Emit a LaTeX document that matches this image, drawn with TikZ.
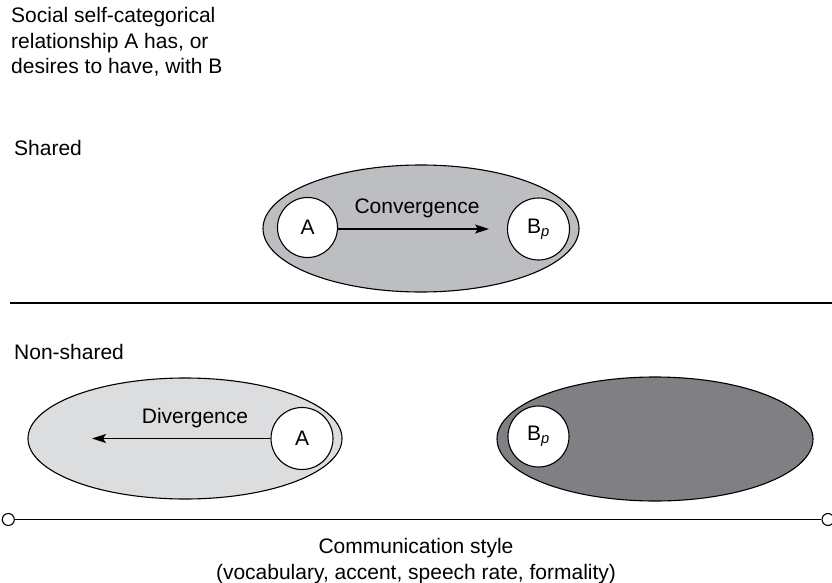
\documentclass[tikz,border=0pt]{standalone}
\usepackage{fontspec}
\setmainfont{Liberation Sans}
\usetikzlibrary{shapes.geometric,arrows.meta}
\definecolor{midgray}{HTML}{BDBEC1}
\definecolor{lightgray}{HTML}{DCDDDF}
\definecolor{darkgray}{HTML}{808084}
\begin{document}
\begin{tikzpicture}[x=1pt,y=-1pt,
  lbl/.style={font=\fontsize{21}{25.5}\selectfont, inner sep=0pt},
  oval/.style={ellipse, draw, line width=1.1pt, inner sep=0pt},
  agent/.style={circle, draw, fill=white, line width=1.1pt, minimum size=60pt, inner sep=0pt, font=\fontsize{21}{25.5}\selectfont},
  arr/.style={line width=1.1pt, -{Stealth[length=14pt,width=9pt,inset=3pt]}},
  axis/.style={line width=1.1pt},
  endc/.style={circle, draw, fill=white, line width=1.1pt, minimum size=12pt, inner sep=0pt}]
\useasboundingbox (0,0) rectangle (832,583);
\clip (0,0) rectangle (832,583);
% texts
\node[lbl, anchor=base west] (t1) at (11,23) {Social self-categorical};
\node[lbl, anchor=base west] (t2) at (11,48.5) {relationship A has, or};
\node[lbl, anchor=base west] (t3) at (11,74) {desires to have, with B};
\node[lbl, anchor=base west] (sh) at (14,155) {Shared};
\node[lbl, anchor=base west] (ns) at (14,359) {Non-shared};
% top
\node[oval, fill=midgray, minimum width=316pt, minimum height=127pt] (e1) at (421,228.5) {};
\node[agent] (a1) at (307.5,227.5) {A};
\node[agent, minimum size=62pt] (b1) at (538.5,229) {B\textsubscript{\textit{p}}};
\node[lbl, anchor=base] (conv) at (417,213) {Convergence};
\coordinate (c1) at (489,229);
\draw[arr] (a1.east |- c1) -- (c1);
% divider
\coordinate (d0) at (10,303);
\coordinate (d1) at (832,303);
\draw[axis] (d0) -- (d1);
% bottom left
\node[oval, fill=lightgray, minimum width=314pt, minimum height=121pt] (e2) at (185,438.5) {};
\node[agent, minimum size=62pt] (a2) at (302,438.5) {A};
\node[lbl, anchor=base] (div) at (195,423) {Divergence};
\coordinate (c2) at (92,438.5);
\draw[arr] (a2.west) -- (c2);
% bottom right
\node[oval, fill=darkgray, minimum width=316pt, minimum height=124pt] (e3) at (655,439) {};
\node[agent, minimum size=61pt] (b2) at (538.5,436.5) {B\textsubscript{\textit{p}}};
% axis
\node[endc] (l) at (8.3,519.5) {};
\node[endc] (r) at (828,519.5) {};
\draw[axis] (l) -- (r);
\node[lbl, anchor=base] (cs1) at (416,553.5) {Communication style};
\node[lbl, anchor=base] (cs2) at (416,579) {(vocabulary, accent, speech rate, formality)};
\end{tikzpicture}
\end{document}
